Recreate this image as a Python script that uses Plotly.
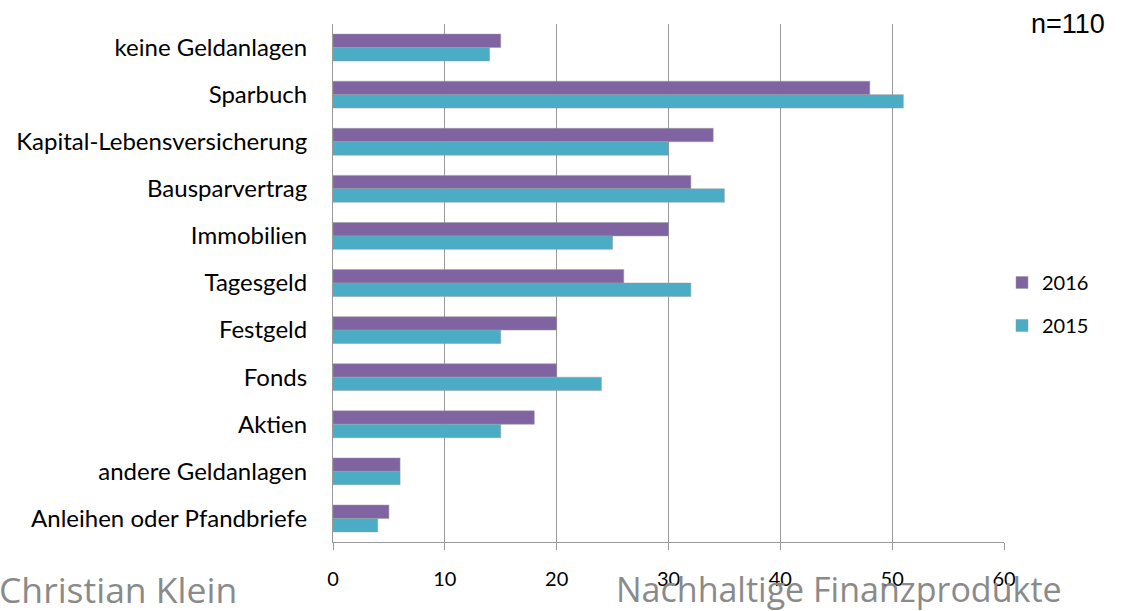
import plotly.graph_objects as go

categories = ["keine Geldanlagen", "Sparbuch", "Kapital-Lebensversicherung", "Bausparvertrag",
              "Immobilien", "Tagesgeld", "Festgeld", "Fonds", "Aktien", "andere Geldanlagen",
              "Anleihen oder Pfandbriefe"]
values_2016 = [15, 48, 34, 32, 30, 26, 20, 20, 18, 6, 5]
values_2015 = [14, 51, 30, 35, 25, 32, 15, 24, 15, 6, 4]
x_ticks = [0, 10, 20, 30, 40, 50, 60]

W, H = 1121, 611
L, R, T, B = 333, 117, 24, 69
plot_w = W - L - R
plot_h = H - T - B

def px_x(px):
    return (px - L) / plot_w

def px_y(py):
    return (H - B - py) / plot_h

fig = go.Figure()
fig.add_trace(go.Bar(y=categories, x=values_2016, name="2016", orientation="h", legendgroup="a",
                     marker=dict(color="#8064A2", line=dict(color="#9a9a9a", width=0.5))))
fig.add_trace(go.Bar(y=categories, x=values_2015, name="2015", orientation="h", legendgroup="b",
                     marker=dict(color="#4BACC6", line=dict(color="#9a9a9a", width=0.5))))

fig.update_layout(
    width=W, height=H,
    margin=dict(l=L, r=R, t=T, b=B, autoexpand=False),
    paper_bgcolor="white", plot_bgcolor="white",
    barmode="group", bargap=0.43, bargroupgap=0,
    font=dict(family="Lato", size=20, color="black"),
    showlegend=True,
    legend=dict(x=px_x(1002), y=px_y(304), xanchor="left", yanchor="middle",
                xref="paper", yref="paper",
                font=dict(family="Lato", size=20, color="black"),
                itemwidth=30, tracegroupgap=14, bgcolor="rgba(0,0,0,0)"),
    xaxis=dict(range=[0, 60], tickvals=x_ticks, showgrid=True, gridcolor="#999999", gridwidth=1,
               showline=True, linecolor="#999999", linewidth=1, ticks="outside", ticklen=7,
               tickcolor="#999999", zeroline=False, ticklabelstandoff=12,
               tickfont=dict(family="Lato", size=20, color="black"), fixedrange=True),
    yaxis=dict(autorange="reversed", showline=True, linecolor="#999999", linewidth=1,
               ticks="", showgrid=False, ticklabelstandoff=20,
               tickfont=dict(family="Lato", size=24, color="black"), fixedrange=True),
    annotations=[
        dict(text="n=110", xref="paper", yref="paper", x=px_x(1029), y=px_y(24),
             xanchor="left", yanchor="middle", showarrow=False,
             font=dict(family="Liberation Sans", size=27, color="black")),
        dict(text="Christian Klein", xref="paper", yref="paper", x=px_x(-3),
             y=px_y(563), xanchor="left", yanchor="top",
             showarrow=False, font=dict(family="Open Sans", size=35.5, color="#8a8a8a")),
        dict(text="Nachhaltige Finanzprodukte", xref="paper", yref="paper", x=px_x(614),
             y=px_y(564), xanchor="left", yanchor="top", showarrow=False,
             font=dict(family="Open Sans", size=34, color="#8a8a8a")),
    ],
)

fig.write_html("out.html", config={"displayModeBar": False},
               post_script="document.body.style.margin='0';document.body.style.overflow='hidden';")
